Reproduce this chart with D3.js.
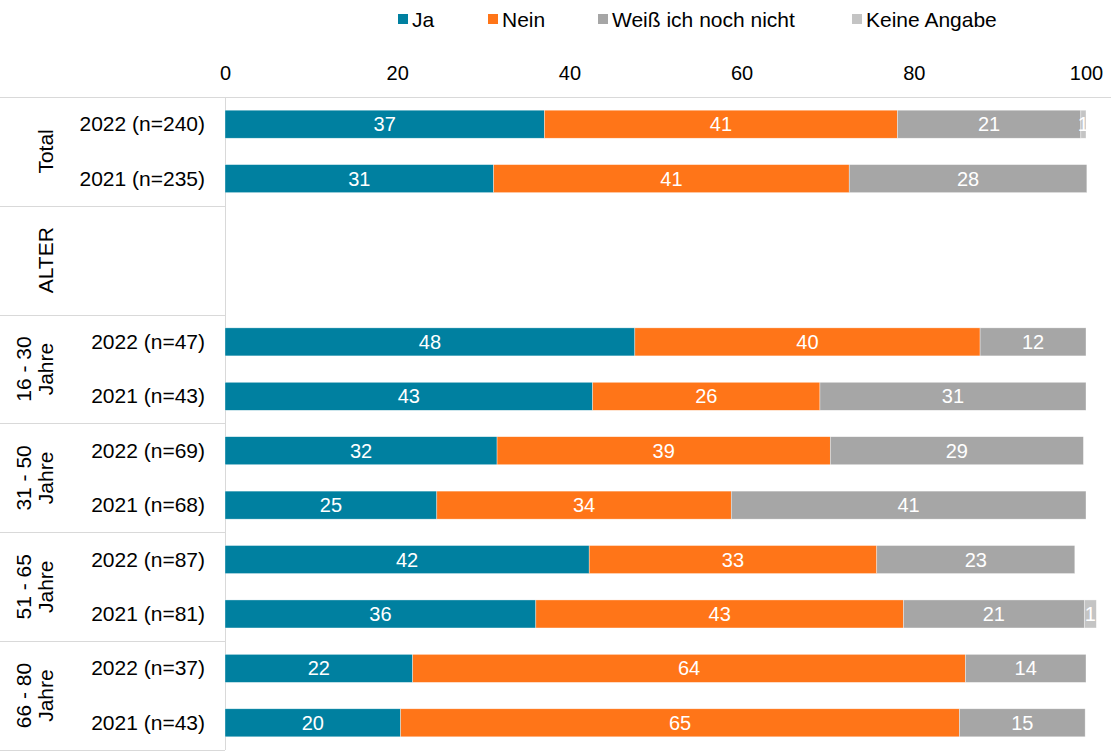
<!DOCTYPE html>
<html>
<head>
<meta charset="utf-8">
<script src="https://cdn.jsdelivr.net/npm/d3@7"></script>
<style>
  body { margin: 0; background: #fff; }
  svg { display: block; font-family: Arial, "Liberation Sans", sans-serif; }
</style>
</head>
<body>
<div id="chart"></div>
<script>
// series
const seriesNames = ["Ja", "Nein", "Weiß ich noch nicht", "Keine Angabe"];
const seriesColors = ["#0080a0", "#ff7518", "#a6a6a6", "#c4c4c4"];

// groups (label lines), each takes 2 row slots
const groupLabels = [["Total"], ["ALTER"], ["16 - 30", "Jahre"], ["31 - 50", "Jahre"], ["51 - 65", "Jahre"], ["66 - 80", "Jahre"]];

// row labels ("" = empty slot)
const rowLabels = [
  "2022 (n=240)", "2021 (n=235)",
  "", "",
  "2022 (n=47)", "2021 (n=43)",
  "2022 (n=69)", "2021 (n=68)",
  "2022 (n=87)", "2021 (n=81)",
  "2022 (n=37)", "2021 (n=43)"
];

// values per row (null = no bar)
const ja    = [37.1, 31.2, null, null, 47.6, 42.7, 31.6, 24.6, 42.3, 36.1, 21.8, 20.4];
const nein  = [41.0, 41.3, null, null, 40.1, 26.4, 38.7, 34.2, 33.4, 42.7, 64.2, 64.9];
const weiss = [21.3, 27.6, null, null, 12.3, 30.9, 29.4, 41.2, 23.0, 21.0, 14.0, 14.6];
const keine = [0.6, 0, null, null, 0, 0, 0, 0, 0, 1.4, 0, 0];

const xTicks = [0, 20, 40, 60, 80, 100];

const width = 1115, height = 752;
const svg = d3.select("#chart").append("svg")
  .attr("width", width)
  .attr("height", height);

const x = d3.scaleLinear().domain([0, 100]).range([225, 1086]);
const rowKeys = rowLabels.map((d, i) => "r" + i);
const y = d3.scaleBand().domain(rowKeys).range([97, 750])
  .paddingInner(0.485).paddingOuter(0.2425);

const lineColor = "#d9d9d9";

// top axis labels
svg.append("g")
  .attr("transform", "translate(0,80)")
  .call(d3.axisTop(x).tickValues(xTicks).tickSize(0).tickPadding(0))
  .call(g => g.select(".domain").remove())
  .selectAll("text")
  .attr("font-size", 20)
  .attr("fill", "#000")
  .attr("font-family", "Arial, 'Liberation Sans', sans-serif");

// frame lines
svg.append("line")
  .attr("x1", 0).attr("x2", 1111).attr("y1", 97.5).attr("y2", 97.5)
  .attr("stroke", lineColor);
svg.append("line")
  .attr("x1", 225.5).attr("x2", 225.5).attr("y1", 97).attr("y2", 750)
  .attr("stroke", lineColor);

// group separators and rotated group labels
const step = y.step();
let slot = 0;
groupLabels.forEach(lines => {
  const top = 97 + slot * step;
  const bottom = top + 2 * step;
  svg.append("line")
    .attr("x1", 0).attr("x2", 225).attr("y1", Math.round(bottom) + 0.5).attr("y2", Math.round(bottom) + 0.5)
    .attr("stroke", lineColor);
  const cy = (top + bottom) / 2;
  const cx = lines.length === 1 ? 46 : 35;
  const t = svg.append("text")
    .attr("transform", `translate(${cx},${cy}) rotate(-90)`)
    .attr("text-anchor", "middle")
    .attr("font-size", 21)
    .attr("fill", "#000");
  lines.forEach((l, i) => {
    t.append("tspan")
      .attr("x", 0)
      .attr("y", (i - (lines.length - 1) / 2) * 22 + 7)
      .text(l);
  });
  slot += 2;
});

// row labels
svg.append("g").selectAll("text")
  .data(rowLabels)
  .join("text")
  .attr("x", 205)
  .attr("y", (d, i) => y(rowKeys[i]) + y.bandwidth() / 2 + 7)
  .attr("text-anchor", "end")
  .attr("font-size", 21)
  .attr("fill", "#000")
  .text(d => d);

// stacked bars
const table = rowKeys.map((k, i) => ({
  key: k,
  empty: ja[i] === null,
  "Ja": ja[i] || 0,
  "Nein": nein[i] || 0,
  "Weiß ich noch nicht": weiss[i] || 0,
  "Keine Angabe": keine[i] || 0
}));
const stacked = d3.stack().keys(seriesNames)(table);

const layers = svg.append("g").selectAll("g")
  .data(stacked)
  .join("g")
  .attr("fill", (d, i) => seriesColors[i]);

layers.selectAll("rect")
  .data(d => d.filter(s => !s.data.empty && s[1] - s[0] > 0))
  .join("rect")
  .attr("x", d => x(d[0]))
  .attr("y", d => y(d.data.key))
  .attr("width", d => x(d[1]) - x(d[0]))
  .attr("height", y.bandwidth())
  .attr("stroke", "#fff")
  .attr("stroke-opacity", 0.6)
  .attr("stroke-width", 0.6);

layers.selectAll("text")
  .data(d => d.filter(s => !s.data.empty && s[1] - s[0] > 0))
  .join("text")
  .attr("x", d => (x(d[0]) + x(d[1])) / 2)
  .attr("y", d => y(d.data.key) + y.bandwidth() / 2 + 7)
  .attr("text-anchor", "middle")
  .attr("font-size", 20)
  .attr("fill", "#fff")
  .text(d => Math.round(d[1] - d[0]));

// legend
const legendX = [398, 488, 598, 852];
const legend = svg.append("g").selectAll("g")
  .data(seriesNames)
  .join("g")
  .attr("transform", (d, i) => `translate(${legendX[i]},0)`);
legend.append("rect")
  .attr("x", 0).attr("y", 14).attr("width", 10).attr("height", 10)
  .attr("fill", (d, i) => seriesColors[i]);
legend.append("text")
  .attr("x", 14).attr("y", 27)
  .attr("font-size", 21)
  .attr("fill", "#000")
  .text(d => d);
</script>
</body>
</html>
